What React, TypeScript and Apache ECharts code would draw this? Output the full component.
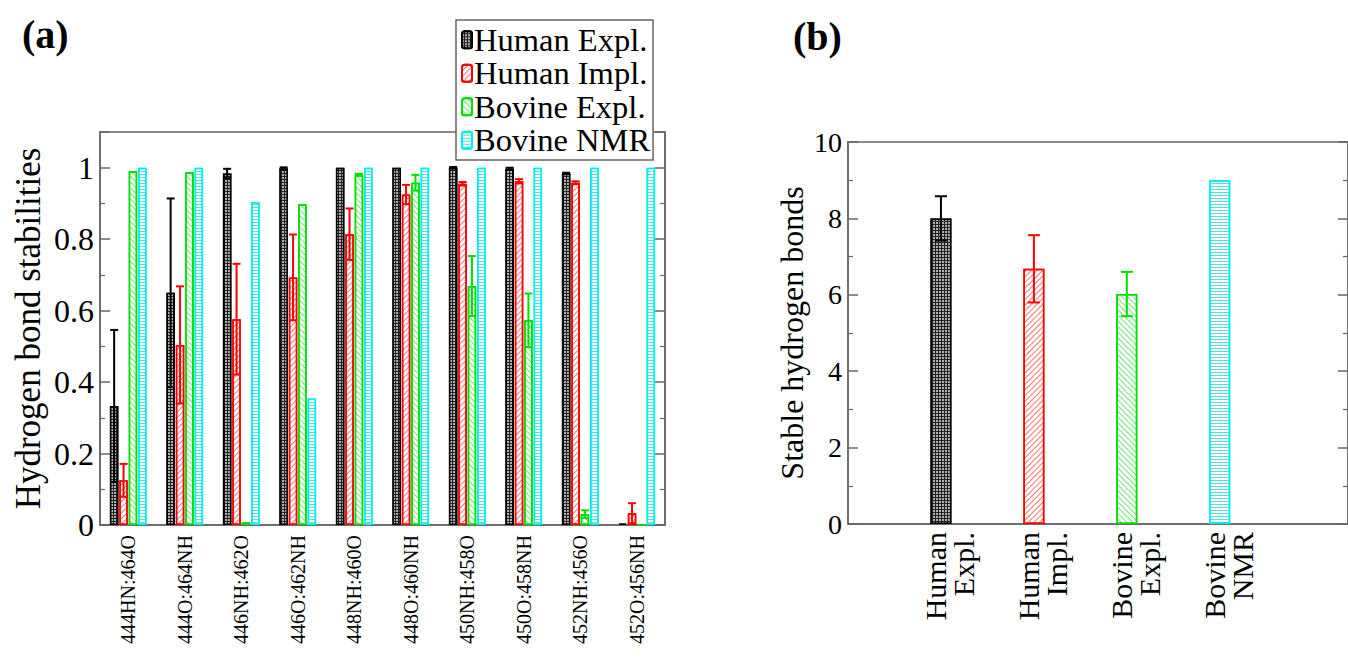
import React, { useEffect, useRef } from 'react';
import * as echarts from 'echarts';

// ---------- Panel (a) data ----------
const categoriesA = ['444HN:464O', '444O:464NH', '446NH:462O', '446O:462NH', '448NH:460O', '448O:460NH', '450NH:458O', '450O:458NH', '452NH:456O', '452O:456NH'];
const seriesNames = ['Human Expl.', 'Human Impl.', 'Bovine Expl.', 'Bovine NMR'];
const humanExpl = [0.333, 0.65, 0.984, 0.998, 1.0, 1.0, 1.0, 0.997, 0.984, 0.004];
const humanExplErr = [0.213, 0.264, 0.013, 0.003, 0, 0, 0.002, 0.003, 0.002, 0];
const humanImpl = [0.125, 0.504, 0.576, 0.693, 0.814, 0.925, 0.955, 0.962, 0.958, 0.033];
const humanImplErr = [0.046, 0.164, 0.155, 0.12, 0.072, 0.027, 0.005, 0.006, 0.004, 0.028];
const bovineExpl = [0.99, 0.987, 0.008, 0.898, 0.98, 0.958, 0.669, 0.573, 0.03, 0];
const bovineExplErr = [0, 0, 0, 0, 0.003, 0.022, 0.084, 0.075, 0.011, 0];
const bovineNMR = [1.0, 1.0, 0.904, 0.354, 1.0, 1.0, 1.0, 1.0, 1.0, 1.0];

// ---------- Panel (b) data ----------
const categoriesB = [['Human', 'Expl.'], ['Human', 'Impl.'], ['Bovine', 'Expl.'], ['Bovine', 'NMR']];
const stableBonds = [8.0, 6.68, 6.02, 9.0];
const stableBondsErr = [0.58, 0.88, 0.58, 0];

// ---------- styles ----------
const FONT = 'Liberation Serif';
const FRAME = '#666';
const lineColors = ['#000000', '#ff0000', '#00e000', '#00eeee'];
const itemStyles: any[] = [
  {
    color: '#222', borderColor: '#000', borderWidth: 1.5,
    decal: { symbol: 'circle', symbolSize: 0.8, color: '#ffffff', dashArrayX: [2, 1], dashArrayY: [2, 1] },
  },
  {
    color: '#ffffff', borderColor: '#ff0000', borderWidth: 1.5,
    decal: { symbol: 'rect', symbolSize: 1, color: 'rgba(255,0,0,0.55)', dashArrayX: [1, 0], dashArrayY: [1, 3], rotation: -Math.PI / 4 },
  },
  {
    color: '#ffffff', borderColor: '#00e000', borderWidth: 1.5,
    decal: { symbol: 'rect', symbolSize: 1, color: 'rgba(0,210,0,0.55)', dashArrayX: [1, 0], dashArrayY: [1, 3], rotation: Math.PI / 4 },
  },
  {
    color: '#ffffff', borderColor: '#00eeee', borderWidth: 1.5,
    decal: { symbol: 'rect', symbolSize: 1, color: 'rgba(0,220,220,0.7)', dashArrayX: [1, 0], dashArrayY: [1, 2], rotation: 0 },
  },
];

const BW_A = 8.5;
const GAP_A = 0.9;
const B_MAX = 5.38;

function errorSeries(vals: number[], errs: number[], xs: number[], offset: number, color: string, xAxisIndex: number, yAxisIndex: number, capW: number) {
  return {
    type: 'custom',
    xAxisIndex,
    yAxisIndex,
    silent: true,
    z: 10,
    data: vals.map((v, i) => [xs[i], v, errs[i]]).filter((d) => d[2] > 0),
    encode: { x: 0, y: 1 },
    renderItem: (params: any, api: any) => {
      const x0 = api.value(0);
      const v = api.value(1);
      const e = api.value(2);
      const top = api.coord([x0, v + e]);
      const bot = api.coord([x0, Math.max(0, v - e)]);
      const x = top[0] + offset;
      const st = { stroke: color, lineWidth: 2 };
      return {
        type: 'group',
        children: [
          { type: 'line', shape: { x1: x, y1: top[1], x2: x, y2: bot[1] }, style: st },
          { type: 'line', shape: { x1: x - capW / 2, y1: top[1], x2: x + capW / 2, y2: top[1] }, style: st },
          { type: 'line', shape: { x1: x - capW / 2, y1: bot[1], x2: x + capW / 2, y2: bot[1] }, style: st },
        ],
      };
    },
  };
}

export default function App() {
  const ref = useRef<HTMLDivElement>(null);
  useEffect(() => {
    if (!ref.current) return;
    const chart = echarts.init(ref.current, null, { renderer: 'svg' });
    const valsA = [humanExpl, humanImpl, bovineExpl, bovineNMR];
    const errsA = [humanExplErr, humanImplErr, bovineExplErr, null];
    const idxA = categoriesA.map((_, i) => i);
    const xsB = categoriesB.map((_, i) => i + 1);

    const barSeriesA = valsA.map((vals, s) => ({
      name: seriesNames[s],
      type: 'bar',
      xAxisIndex: 0,
      yAxisIndex: 0,
      barWidth: BW_A,
      barGap: ((GAP_A / BW_A) * 100).toFixed(1) + '%',
      data: vals,
      itemStyle: itemStyles[s],
    }));
    const errSeriesA: any[] = [];
    errsA.forEach((errs, s) => {
      if (!errs) return;
      const offset = (s - 1.5) * (BW_A + GAP_A);
      errSeriesA.push(errorSeries(valsA[s], errs, idxA, offset, lineColors[s], 0, 0, 8));
    });
    const errSeriesB: any[] = stableBonds
      .map((v, i) => (stableBondsErr[i] > 0 ? errorSeries([v], [stableBondsErr[i]], [xsB[i]], 0, lineColors[i], 1, 2, 12) : null))
      .filter(Boolean);

    const yBase = (min: number, max: number, interval: number, fs: number, fmt: (v: number) => string) => ({
      type: 'value',
      min, max, interval,
      axisLine: { show: true, lineStyle: { color: FRAME, width: 1.5 } },
      axisTick: { show: true, inside: true, length: 10, lineStyle: { color: FRAME, width: 1.5 } },
      minorTick: { show: true, splitNumber: 2, length: 5, lineStyle: { color: FRAME, width: 1.2 } },
      splitLine: { show: false },
      axisLabel: { show: true, fontSize: fs, fontFamily: FONT, color: '#000', margin: 6, formatter: fmt, showMaxLabel: true },
    });

    const option: any = {
      animation: false,
      textStyle: { fontFamily: FONT, color: '#000' },
      grid: [
        { left: 100, top: 132, width: 565, height: 393, show: true, borderColor: FRAME, borderWidth: 1.5, backgroundColor: 'transparent' },
        { left: 848, top: 142, right: -4, height: 382, show: true, borderColor: FRAME, borderWidth: 1.5, backgroundColor: 'transparent' },
      ],
      legend: {
        data: seriesNames,
        orient: 'vertical',
        left: 456,
        top: 20,
        padding: [3, 3, 3, 5],
        itemWidth: 10,
        itemHeight: 17,
        itemGap: 0,
        backgroundColor: '#fff',
        borderColor: FRAME,
        borderWidth: 1.5,
        textStyle: { fontSize: 32.5, fontFamily: FONT, color: '#000', lineHeight: 33.5, padding: [0, 0, 0, -3] },
        z: 20,
      },
      xAxis: [
        {
          type: 'category',
          gridIndex: 0,
          data: categoriesA,
          axisLine: { show: true, lineStyle: { color: FRAME, width: 1.5 } },
          axisTick: { show: false },
          axisLabel: { interval: 0, rotate: 90, fontSize: 20, fontFamily: FONT, color: '#000', margin: 10 },
        },
        {
          type: 'value',
          gridIndex: 1,
          min: 0,
          max: B_MAX,
          interval: 1,
          axisLine: { show: true, lineStyle: { color: FRAME, width: 1.5 } },
          axisTick: { show: false },
          splitLine: { show: false },
          axisLabel: {
            rotate: 90, margin: 8,
            showMaxLabel: false, showMinLabel: false,
            formatter: (v: number) => {
              const k = Math.round(v);
              if (Math.abs(v - k) > 1e-6 || k < 1 || k > categoriesB.length) return '';
              const [l1, l2] = categoriesB[k - 1];
              return '{s| }\n{t|' + l1 + '}\n{t|' + l2 + '}';
            },
            rich: {
              s: { fontSize: 10, lineHeight: 17, fontFamily: FONT },
              t: { fontSize: 30, lineHeight: 28, fontFamily: FONT, color: '#000' },
            },
          },
        },
      ],
      yAxis: [
        {
          ...yBase(0, 1.1, 0.2, 32, (v: number) => (v > 1.05 ? '' : String(Math.round(v * 10) / 10))),
          gridIndex: 0,
          position: 'left',
          name: 'Hydrogen bond stabilities',
          nameLocation: 'middle',
          nameGap: 54,
          nameTextStyle: { fontSize: 35, fontFamily: FONT, color: '#000' },
        },
        {
          ...yBase(0, 1.1, 0.2, 32, () => ''),
          gridIndex: 0,
          position: 'right',
          axisLabel: { show: false },
        },
        {
          ...yBase(0, 10, 2, 28, (v: number) => String(v)),
          gridIndex: 1,
          position: 'left',
          name: 'Stable hydrogen bonds',
          nameLocation: 'middle',
          nameGap: 40,
          nameTextStyle: { fontSize: 32, fontFamily: FONT, color: '#000' },
        },
        {
          ...yBase(0, 10, 2, 28, () => ''),
          gridIndex: 1,
          position: 'right',
          axisLabel: { show: false },
        },
      ],
      graphic: [
        { type: 'text', left: 22, top: 14, style: { text: '(a)', fontSize: 40, fontWeight: 'bold', fontFamily: FONT, fill: '#000' } },
        { type: 'text', left: 793, top: 16, style: { text: '(b)', fontSize: 40, fontWeight: 'bold', fontFamily: FONT, fill: '#000' } },
      ],
      series: [
        ...barSeriesA,
        ...errSeriesA,
        {
          type: 'bar',
          xAxisIndex: 1,
          yAxisIndex: 2,
          barWidth: 21,
          data: stableBonds.map((v, i) => ({ value: [xsB[i], v], itemStyle: itemStyles[i] })),
        },
        ...errSeriesB,
      ],
    };

    chart.setOption(option);
    return () => chart.dispose();
  }, []);
  return <div ref={ref} style={{ position: 'absolute', left: 0, top: 0, width: 1348, height: 660 }} />;
}
